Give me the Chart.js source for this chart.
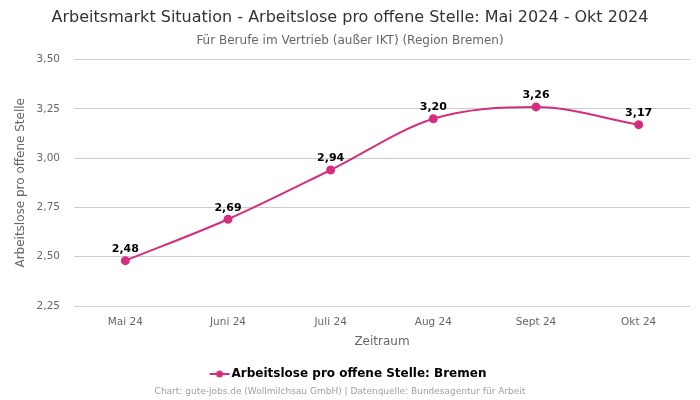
<!DOCTYPE html>
<html><head><meta charset="utf-8">
<script src="https://cdn.jsdelivr.net/npm/chart.js@4/dist/chart.umd.min.js"></script>
<style>html,body{margin:0;padding:0;background:#fff}#wrap{width:700px;height:400px}</style>
</head><body><div id="wrap"><canvas id="c"></canvas></div>
<script>
const categories = ["Mai 24","Juni 24","Juli 24","Aug 24","Sept 24","Okt 24"];
const values = [2.48, 2.69, 2.94, 3.20, 3.26, 3.17];
const yTicks = [2.25, 2.50, 2.75, 3.00, 3.25, 3.50];
const seriesName = "Arbeitslose pro offene Stelle: Bremen";
const titleText = "Arbeitsmarkt Situation - Arbeitslose pro offene Stelle: Mai 2024 - Okt 2024";
const subtitleText = "Für Berufe im Vertrieb (außer IKT) (Region Bremen)";
const footerText = "Chart: gute-jobs.de (Wollmilchsau GmbH) | Datenquelle: Bundesagentur für Arbeit";
const color = "#d42f7e";
const fmt = v => v.toFixed(2).replace('.', ',');
Chart.defaults.font.family = "'DejaVu Sans', sans-serif";

const legendIcon = document.createElement('canvas');
legendIcon.width = 22; legendIcon.height = 10;
(function(){
  const g = legendIcon.getContext('2d');
  g.strokeStyle = color; g.lineWidth = 2;
  g.beginPath(); g.moveTo(1,5); g.lineTo(21,5); g.stroke();
  g.fillStyle = color; g.beginPath(); g.arc(11,5,3.5,0,Math.PI*2); g.fill();
})();

const labelPlugin = {
  id: 'labels',
  afterDatasetsDraw(chart) {
    const ctx = chart.ctx;
    const meta = chart.getDatasetMeta(0);
    ctx.save();
    ctx.font = "bold 11px 'DejaVu Sans'";
    ctx.fillStyle = '#000';
    ctx.textAlign = 'center';
    ctx.textBaseline = 'bottom';
    meta.data.forEach((pt, i) => {
      ctx.fillText(fmt(values[i]), pt.x, pt.y - 6);
    });
    ctx.restore();
  },
  afterDraw(chart) {
    const ctx = chart.ctx;
    ctx.save();
    ctx.font = "9px 'DejaVu Sans'";
    ctx.fillStyle = '#a0a0a0';
    ctx.textAlign = 'center';
    ctx.textBaseline = 'middle';
    ctx.fillText(footerText, 340, 392);
    ctx.restore();
  }
};

new Chart(document.getElementById('c'), {
  type: 'line',
  data: {
    labels: categories,
    datasets: [{
      label: seriesName,
      data: values,
      borderColor: color,
      backgroundColor: color,
      borderWidth: 2,
      pointRadius: 3.5,
      pointHoverRadius: 3.5,
      cubicInterpolationMode: 'monotone',
      fill: false
    }]
  },
  options: {
    responsive: true,
    maintainAspectRatio: false,
    animation: false,
    layout: { padding: { left: 10, right: 10, top: 0, bottom: 10 } },
    plugins: {
      title: { display: true, text: titleText, color: '#333', font: { size: 16, weight: 'normal' }, padding: { top: 8, bottom: 6 } },
      subtitle: { display: true, text: subtitleText, color: '#666', font: { size: 12 }, padding: { bottom: 12 } },
      legend: {
        position: 'bottom',
        labels: { color: '#333', font: { size: 12, weight: 'bold' }, usePointStyle: true, boxWidth: 22, boxHeight: 10, padding: 8,
          generateLabels(chart) {
            return [{ text: seriesName, fillStyle: color, strokeStyle: color, lineWidth: 2, pointStyle: legendIcon, datasetIndex: 0 }];
          }
        }
      },
      tooltip: { enabled: false }
    },
    scales: {
      x: {
        offset: true,
        grid: { display: false },
        border: { display: false },
        ticks: { color: '#666', font: { size: 10.5 }, padding: 2 },
        title: { display: true, text: 'Zeitraum', color: '#666', font: { size: 12 }, padding: { top: 4, bottom: 11 } }
      },
      y: {
        min: 2.25, max: 3.5,
        afterBuildTicks(axis) { axis.ticks = yTicks.map(v => ({ value: v })); },
        afterFit(axis) { axis.width = 64; },
        grid: { color: ctx => (ctx.tick && ctx.tick.value === yTicks[0]) ? '#ccd6eb' : '#cccccc', drawTicks: false },
        border: { display: false },
        ticks: { color: '#666', font: { size: 10.5 }, padding: 14, callback: v => fmt(v) },
        title: { display: true, text: 'Arbeitslose pro offene Stelle', color: '#666', font: { size: 12 }, padding: { top: 4, bottom: 0 } }
      }
    }
  },
  plugins: [labelPlugin]
});
</script></body></html>
